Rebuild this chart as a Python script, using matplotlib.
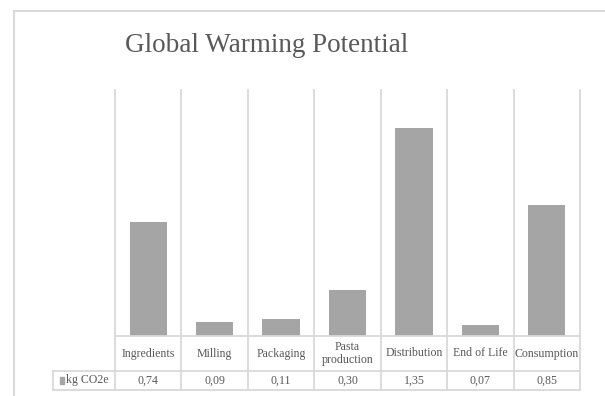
import matplotlib
matplotlib.use("Agg")
import matplotlib.pyplot as plt
from matplotlib.lines import Line2D
from matplotlib.patches import Rectangle
import matplotlib.transforms as mtransforms

categories = ["Ingredients", "Milling", "Packaging", "Pasta\nproduction",
              "Distribution", "End of Life", "Consumption"]
values = [0.74, 0.09, 0.11, 0.30, 1.35, 0.07, 0.85]
value_labels = ["0,74", "0,09", "0,11", "0,30", "1,35", "0,07", "0,85"]
series_name = "kg CO2e"
title = "Global Warming Potential"

W, H = 605, 396
fig = plt.figure(figsize=(W / 100, H / 100), dpi=100)
plt.rcParams['font.family'] = ['Liberation Serif', 'DejaVu Serif']

grid_c = "#d9d9d9"
text_c = "#595959"
bar_c = "#a5a5a5"

def fx(px):
    return px / W

def fy(py):
    return 1 - py / H

# outer chart frame
fig.add_artist(Line2D([fx(13.5), fx(13.5)], [fy(10.5), 0], color=grid_c, lw=1.5))
fig.add_artist(Line2D([fx(13.5), 1], [fy(10.5), fy(10.5)], color=grid_c, lw=1.5))

left_px, right_px, top_px, base_px = 115, 580, 90, 336
ax = fig.add_axes([fx(left_px), fy(base_px), fx(right_px - left_px),
                   (base_px - top_px) / H])
n = len(categories)
xs = [i + 0.5 for i in range(n)]
ax.bar(xs, values, width=0.56, color=bar_c, zorder=2)
ax.set_xlim(0, n)
ax.set_ylim(0, 1.6)
ax.axis("off")

hdr = -(371 - base_px) / (base_px - top_px)
bot = -(390 - base_px) / (base_px - top_px)
trans = mtransforms.blended_transform_factory(ax.transData, ax.transAxes)
lab_left = (53 - left_px) / ((right_px - left_px) / n)

lk = dict(color=grid_c, lw=1.3, transform=trans, clip_on=False)
# vertical lines
for i in range(n + 1):
    ax.add_line(Line2D([i, i], [1, bot], **lk))
ax.add_line(Line2D([lab_left, lab_left], [hdr, bot], **lk))
# horizontal lines
ax.add_line(Line2D([0, n], [0, 0], **lk))
ax.add_line(Line2D([lab_left, n], [hdr, hdr], **lk))
ax.add_line(Line2D([lab_left, n], [bot, bot], **lk))

fs = 8.6
for x, c, v in zip(xs, categories, value_labels):
    ax.text(x, hdr / 2, c, transform=trans, ha="center", va="center",
            fontsize=fs, color=text_c, linespacing=1.05)
    ax.text(x, (hdr + bot) / 2, v, transform=trans, ha="center", va="center",
            fontsize=fs, color=text_c)

# legend key cell
ax.add_patch(Rectangle((lab_left + 0.1, (hdr + bot) / 2 - 0.013), 0.07, 0.026,
                       transform=trans, color=bar_c, clip_on=False))
ax.text(lab_left + 0.2, (hdr + bot) / 2, series_name, transform=trans,
        ha="left", va="center", fontsize=fs, color=text_c)

fig.text(fx(267), fy(45), title, ha="center", va="center", fontsize=19.5,
         color=text_c)

fig.savefig("out.png", dpi=100)
